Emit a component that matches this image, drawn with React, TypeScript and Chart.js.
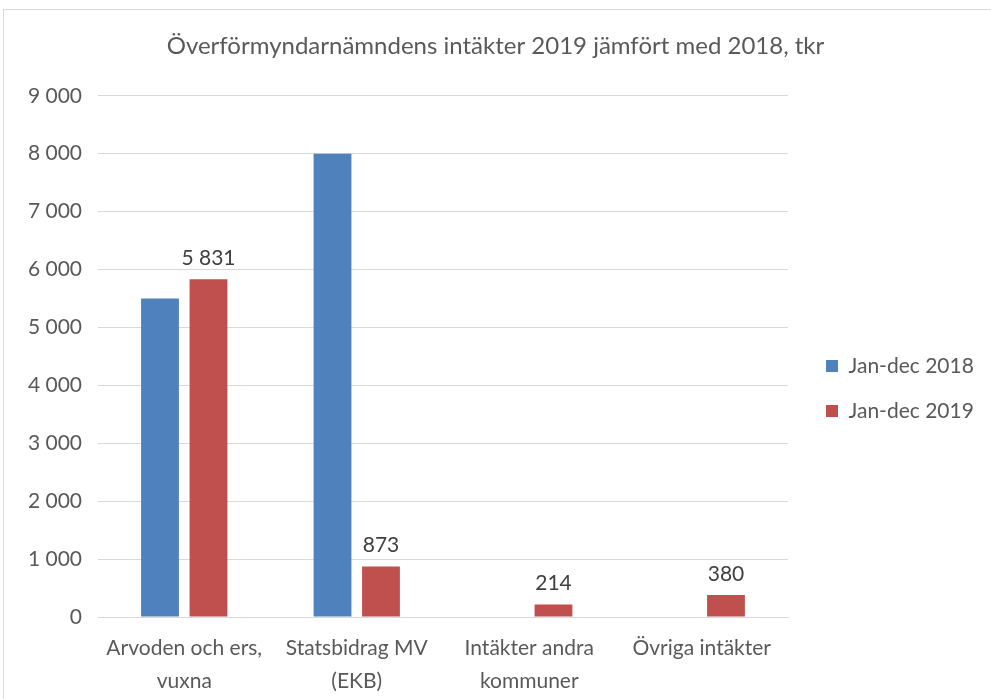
import React, { useEffect, useRef } from "react";
import { Chart, registerables } from "chart.js";
Chart.register(...registerables);

const titleText = "Överförmyndarnämndens intäkter 2019 jämfört med 2018, tkr";
const categories: (string | string[])[] = [
  ["Arvoden och ers,", "vuxna"],
  ["Statsbidrag MV", "(EKB)"],
  ["Intäkter andra", "kommuner"],
  "Övriga intäkter",
];
const seriesNames = ["Jan-dec 2018", "Jan-dec 2019"];
const values2018: (number | null)[] = [5500, 8000, null, null];
const values2019: number[] = [5831, 873, 214, 380];
const yMin = 0;
const yMax = 9000;
const yStep = 1000;

const FONT = "Lato, 'Open Sans', sans-serif";
const fmt = (v: number) => String(v).replace(/\B(?=(\d{3})+(?!\d))/g, " ");

const legendFix = {
  id: "legendFix",
  beforeLayout(chart: any) {
    const lg = chart.legend;
    if (lg && !lg.__patched) {
      const orig = lg.fit.bind(lg);
      lg.fit = function () {
        orig();
        this.width = 203;
      };
      lg.__patched = true;
    }
  },
  afterLayout(chart: any) {
    const lg = chart.legend;
    if (lg) {
      lg.left += 14;
      lg.right += 14;
      lg.top += 39;
      lg.bottom += 39;
    }
  },
};

const dataLabels = {
  id: "dataLabels",
  afterDatasetsDraw(chart: any) {
    const ctx = chart.ctx;
    const meta = chart.getDatasetMeta(1);
    ctx.save();
    ctx.font = `21px ${FONT}`;
    ctx.fillStyle = "#404040";
    ctx.textAlign = "center";
    ctx.textBaseline = "middle";
    meta.data.forEach((bar: any, i: number) => {
      const v = chart.data.datasets[1].data[i];
      if (v == null) return;
      ctx.fillText(fmt(v), bar.x, bar.y - 21);
    });
    ctx.restore();
  },
};

export default function App() {
  const ref = useRef<HTMLCanvasElement>(null);
  useEffect(() => {
    if (!ref.current) return;
    const chart = new Chart(ref.current, {
      type: "bar",
      data: {
        labels: categories as any,
        datasets: [
          {
            label: seriesNames[0],
            data: values2018 as any,
            backgroundColor: "#4f81bd",
            categoryPercentage: 0.562,
            barPercentage: 0.78,
          },
          {
            label: seriesNames[1],
            data: values2019,
            backgroundColor: "#c0504d",
            categoryPercentage: 0.562,
            barPercentage: 0.78,
          },
        ],
      },
      options: {
        animation: false,
        responsive: false,
        maintainAspectRatio: false,
        layout: { padding: { left: 0, right: 0, top: 0, bottom: 0 } },
        plugins: {
          title: {
            display: true,
            text: titleText,
            color: "#595959",
            font: { family: FONT, size: 24, weight: "normal" as any, lineHeight: 1.2 },
            padding: { top: 32, bottom: 35 },
          },
          legend: {
            position: "right",
            labels: {
              color: "#595959",
              font: { family: FONT, size: 21 },
              boxWidth: 12,
              boxHeight: 12,
              padding: 24,
            },
          },
          tooltip: { enabled: false },
        },
        scales: {
          x: {
            grid: { display: false },
            border: { display: true, color: "#d9d9d9", width: 1 },
            ticks: {
              color: "#595959",
              font: { family: FONT, size: 21, lineHeight: 1.6 },
              padding: 6,
              maxRotation: 0,
              autoSkip: false,
            },
            afterFit(scale: any) {
              scale.height = 82;
            },
          },
          y: {
            min: yMin,
            max: yMax,
            grid: { color: "#d9d9d9", drawTicks: false },
            border: { display: false },
            ticks: {
              stepSize: yStep,
              color: "#595959",
              font: { family: FONT, size: 21 },
              padding: 16,
              callback: (v: any) => fmt(Number(v)),
            },
            afterFit(scale: any) {
              scale.width = 98;
            },
          },
        },
      },
      plugins: [legendFix, dataLabels],
    });
    return () => chart.destroy();
  }, []);
  return (
    <div style={{ position: "absolute", left: 0, top: 0, width: 991, height: 699, overflow: "hidden", background: "#fff" }}>
      <div
        style={{
          position: "absolute",
          left: 3,
          top: 9,
          width: 1000,
          height: 700,
          border: "1px solid #d9d9d9",
          boxSizing: "border-box",
        }}
      />
      <canvas ref={ref} width={991} height={699} style={{ position: "absolute", left: 0, top: 0, width: 991, height: 699 }} />
    </div>
  );
}
